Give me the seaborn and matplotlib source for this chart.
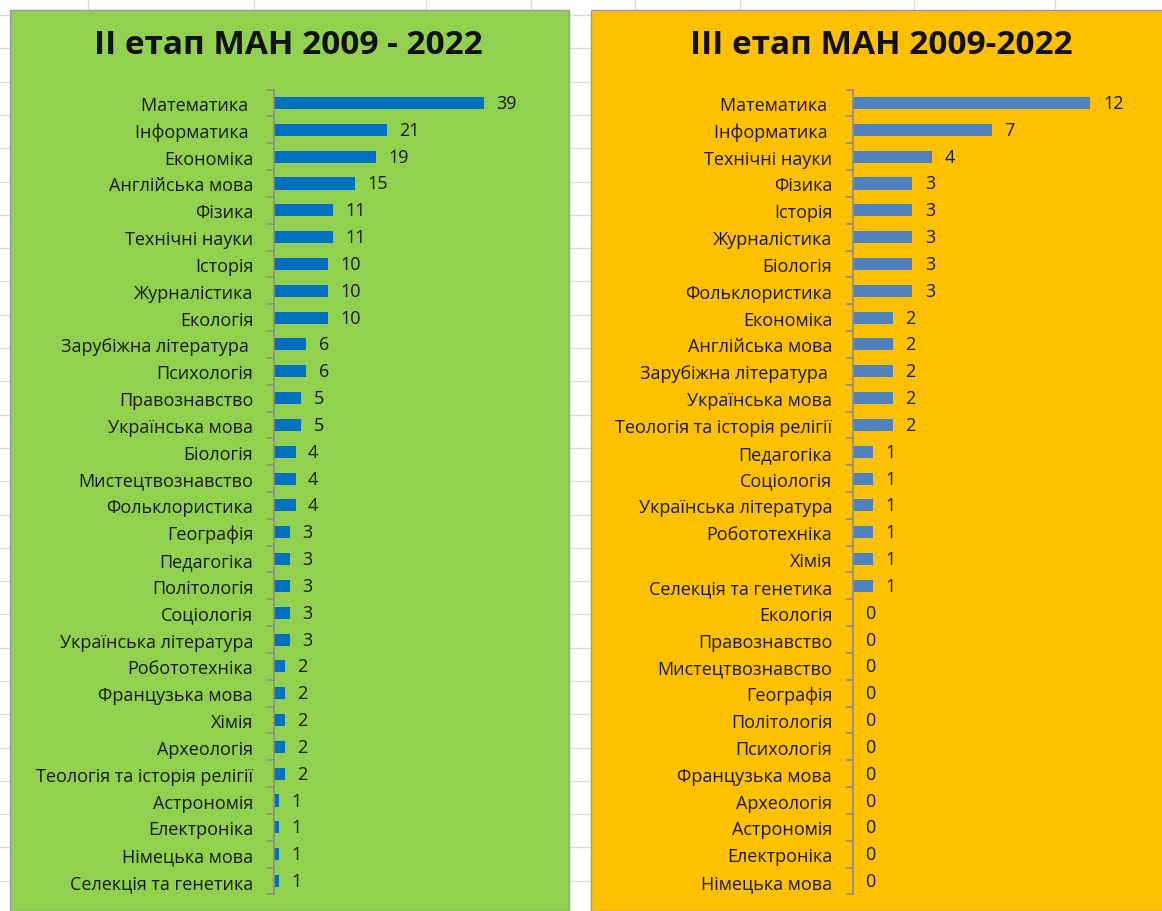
import numpy as np
import pandas as pd
import matplotlib
matplotlib.use("Agg")
import matplotlib.pyplot as plt
from matplotlib.patches import Rectangle
import seaborn as sns

# ---------- data ----------
subjects_ii = [
    "Математика ", "Інформатика ", "Економіка", "Англійська мова", "Фізика",
    "Технічні науки", "Історія", "Журналістика", "Екологія", "Зарубіжна література ",
    "Психологія", "Правознавство", "Українська мова", "Біологія", "Мистецтвознавство",
    "Фольклористика", "Географія", "Педагогіка", "Політологія", "Соціологія",
    "Українська література", "Робототехніка", "Французька мова", "Хімія", "Археологія",
    "Теологія та історія релігії", "Астрономія", "Електроніка", "Німецька мова",
    "Селекція та генетика",
]
counts_ii = [39, 21, 19, 15, 11, 11, 10, 10, 10, 6, 6, 5, 5, 4, 4, 4,
             3, 3, 3, 3, 3, 2, 2, 2, 2, 2, 1, 1, 1, 1]

subjects_iii = [
    "Математика ", "Інформатика ", "Технічні науки", "Фізика", "Історія",
    "Журналістика", "Біологія", "Фольклористика", "Економіка", "Англійська мова",
    "Зарубіжна література ", "Українська мова", "Теологія та історія релігії",
    "Педагогіка", "Соціологія", "Українська література", "Робототехніка", "Хімія",
    "Селекція та генетика", "Екологія", "Правознавство", "Мистецтвознавство",
    "Географія", "Політологія", "Психологія", "Французька мова", "Археологія",
    "Астрономія", "Електроніка", "Німецька мова",
]
counts_iii = [12, 7, 4, 3, 3, 3, 3, 3, 2, 2, 2, 2, 2, 1, 1, 1, 1, 1, 1,
              0, 0, 0, 0, 0, 0, 0, 0, 0, 0, 0]

title_ii = "II етап МАН 2009 - 2022"
title_iii = "III етап МАН 2009-2022"

# ---------- style ----------
sns.set_theme(style="white")
plt.rcParams['font.family'] = ['Open Sans', 'DejaVu Sans']
TXT = "#1a1a1a"
AXC = "#8c8c8c"

W, H = 1162, 912
fig = plt.figure(figsize=(W / 100, H / 100), dpi=100)
fig.patch.set_facecolor("white")

# spreadsheet grid behind the charts
for gx in [88, 254, 426, 531, 635, 740, 914, 1055]:
    fig.add_artist(plt.Line2D([gx / W, gx / W], [0, 1], color="#dcdcdc", lw=1, zorder=0))
for gy in np.arange(16, H, 33.3):
    fig.add_artist(plt.Line2D([0, 1], [1 - gy / H, 1 - gy / H], color="#dcdcdc", lw=1, zorder=0))

# chart panels
fig.add_artist(Rectangle((10 / W, 0), (569 - 10) / W, 1 - 11 / H, transform=fig.transFigure,
                         facecolor="#92D050", edgecolor="#9a9a9a", lw=1, zorder=1))
fig.add_artist(Rectangle((591 / W, 0), (1175 - 591) / W, 1 - 11 / H, transform=fig.transFigure,
                         facecolor="#FFC000", edgecolor="#9a9a9a", lw=1, zorder=1))


def draw_panel(rect, names, vals, xmax, color, title, title_x):
    ax = fig.add_axes(rect)
    ax.set_zorder(2)
    df = pd.DataFrame({"subject": names, "count": vals})
    sns.barplot(data=df, x="count", y="subject", orient="h", color=color,
                width=0.45, saturation=1, linewidth=0, ax=ax, order=names)
    ax.set_xlim(0, xmax)
    ax.set_ylim(len(names) - 0.5, -0.5)
    ax.patch.set_alpha(0)
    for s in ["top", "right", "bottom"]:
        ax.spines[s].set_visible(False)
    ax.spines["left"].set_color(AXC)
    ax.spines["left"].set_linewidth(1.2)
    ax.set_xticks([])
    ax.set_xlabel("")
    ax.set_ylabel("")
    ax.set_yticks(np.arange(-0.5, len(names)), minor=True)
    ax.tick_params(axis="y", which="major", length=0, pad=15, labelsize=13, labelcolor=TXT)
    ax.tick_params(axis="y", which="minor", length=5, width=1.2, color=AXC, left=True)
    for c in ax.containers:
        ax.bar_label(c, labels=[str(v) for v in vals], padding=9, fontsize=13, color=TXT)
    fig.text(title_x / W, 1 - 46 / H, title, ha="center", va="center",
             fontsize=24, fontweight="bold", color="#111111")
    return ax


top = 1 - 90.6 / H
bot = 1 - 895.4 / H
draw_panel([274 / W, bot, 242 / W, top - bot], subjects_ii, counts_ii, 45,
           "#0070C0", title_ii, 288)
draw_panel([853 / W, bot, 277 / W, top - bot], subjects_iii, counts_iii, 14,
           "#4F81BD", title_iii, 881)

fig.savefig("out.png", dpi=100, facecolor=fig.get_facecolor())
